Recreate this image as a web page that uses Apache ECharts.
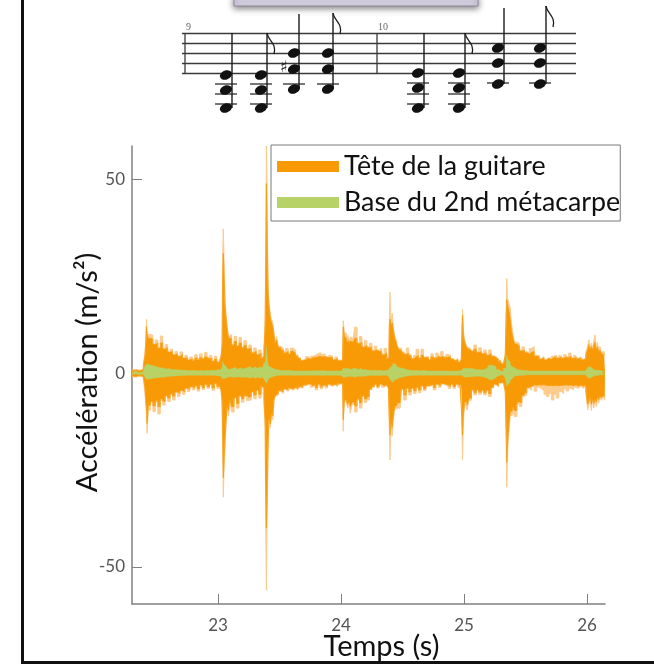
<!DOCTYPE html>
<html><head><meta charset="utf-8">
<style>html,body{margin:0;padding:0;background:#fff}#c{width:654px;height:664px}</style>
<script src="https://cdn.jsdelivr.net/npm/echarts@6/dist/echarts.min.js"></script>
</head><body><div id="c"></div>
<script>
const xTicks=[23,24,25,26];
const yTicks=[-50,0,50];
const seriesNames=['Tête de la guitare','Base du 2nd métacarpe'];
const time=[
22.30,22.33,22.36,22.39,22.40,22.41,22.415,22.42,22.425,
22.44,22.46,22.48,22.50,22.52,22.54,22.56,22.58,22.60,22.62,22.64,22.66,22.68,22.70,22.72,22.74,22.76,22.78,22.80,22.82,22.84,22.86,22.88,22.90,22.92,22.94,22.96,22.98,23.00,23.02,23.03,
23.035,23.04,23.045,23.05,23.055,23.06,23.07,23.08,23.09,23.10,23.12,23.14,23.16,23.18,23.20,23.22,23.24,23.26,23.28,23.30,23.32,23.34,23.36,23.37,23.38,
23.385,23.39,23.395,23.40,23.405,23.41,23.42,23.43,23.44,23.45,23.46,23.47,23.48,23.50,23.52,23.54,23.56,23.58,23.60,23.62,23.64,23.66,23.68,23.70,23.72,23.74,23.76,23.78,23.80,23.82,23.84,23.86,23.88,23.90,23.92,23.94,23.96,23.98,24.00,24.01,
24.015,24.02,24.025,24.03,24.04,24.05,24.06,24.07,24.08,24.10,24.12,24.14,24.16,24.18,24.20,24.22,24.24,24.26,24.28,24.30,24.32,24.34,24.36,24.38,
24.39,24.395,24.40,24.405,24.41,24.42,24.43,24.44,24.45,24.46,24.48,24.50,24.52,24.54,24.56,24.58,24.60,24.62,24.64,24.66,24.68,24.70,24.72,24.74,24.76,24.78,24.80,24.82,24.84,24.86,24.88,24.90,24.92,24.94,24.96,24.975,
24.98,24.985,24.99,24.995,25.00,25.01,25.02,25.03,25.05,25.07,25.09,25.11,25.13,25.15,25.17,25.19,25.21,25.23,25.25,25.27,25.29,25.31,25.33,
25.34,25.345,25.35,25.355,25.36,25.37,25.38,25.39,25.40,25.42,25.44,25.46,25.48,25.50,25.52,25.54,25.56,25.58,25.60,25.62,25.64,25.66,25.68,25.70,25.72,25.74,25.76,25.78,25.80,25.82,25.84,25.86,25.88,25.90,25.92,25.94,25.96,25.98,26.00,26.01,
26.02,26.03,26.04,26.05,26.06,26.07,26.08,26.09,26.10,26.11,26.12,26.13,26.14,26.146];
const guitarPeakHigh=[
.8,1,.8,1,3,5,9,13.9,11,
10,9.8,7.6,8.6,6.6,9.6,6.5,7.4,5.6,6.2,4.9,5.6,4.5,5.5,4,4.6,3.6,4.2,3.4,4.8,3.6,5,3.8,5.4,4,4.6,3.2,4.4,3,3.4,5,
8,31,37.3,31,24,18,15,12,9.5,10,7.5,9.5,7.2,9.2,6.8,8.4,6.5,7.3,5.5,6.5,5,6,3.9,4.5,8,
14,32,58.7,49,32,22,18,15,14,13,10.5,8,9.5,7,6.5,5.6,6.4,5.2,6.5,6,4.7,4,3.4,3.6,4.3,3.8,4.4,4.6,5,5.3,4.8,5,4.3,4.7,4.5,3.6,4.2,3.4,3.6,3.4,
5,13.6,12,10.5,10.3,8.6,9.8,8,9.4,9,11.9,8,9.5,7,8.4,6.9,7.7,6,7,6,6.5,5,6.4,3.8,
5,14,21,15,13,15.5,12,10,9,7.3,6.5,5.6,5,6.5,4.8,3.9,4.6,6.2,4,6.2,4.2,4.3,3.6,5,4,5.2,4.5,5.6,4.2,4.8,4.7,3.8,3.4,3.8,3,3.2,
4,12,16.5,13,10,8.6,7.5,6.8,6.5,5.8,7.3,5.6,6.6,5.2,6,4.8,6,4.6,4.3,3.8,3.2,2.6,3,
5,17,24.5,20,19,18,17,13,10.7,8,7.7,6,6.8,5.6,5.2,6.4,6.9,4.7,4.6,3.8,4.3,3.6,4,3.8,4.4,4.7,4,4.6,4,4.8,4.2,5.2,4,4.6,3.9,4.3,3.6,3.9,5.5,7,
8.6,6.4,7.8,6.2,8.5,9.9,6.5,8,5.8,6.9,5.4,5.6,5,5.6];
const guitarPeakLow=[
-.9,-1,-.8,-.9,-2,-5,-8.6,-10,-15.5,
-9.5,-7.6,-9.9,-7.5,-10.5,-7,-8.2,-6,-7.3,-5.5,-6.9,-5,-6,-4.6,-5.4,-4,-4.7,-3.6,-4.3,-3.4,-4.6,-3.2,-4.2,-3,-3.9,-3,-4.4,-2.8,-3.9,-3,-5,
-8,-20,-32,-26,-22,-18,-13,-9,-11,-7,-10,-6.5,-9,-6,-7.5,-6,-7,-6.9,-5,-6.6,-4.5,-6.4,-3.4,-4,-9,
-14,-40,-56,-40,-28,-18,-12,-14,-11,-12,-7,-6,-5.6,-4.7,-5.2,-4.2,-4.7,-4,-4.4,-3.9,-4.3,-3.6,-3.9,-3.2,-3,-2.9,-3.6,-3.1,-4.3,-3,-4,-3.2,-3.8,-3,-3.4,-3,-3.4,-2.8,-3,-2.8,
-4,-15,-10,-7.5,-7,-8,-9,-7.5,-10.3,-8,-10,-7,-9,-6,-7.5,-6.9,-4.3,-3.6,-3,-3.8,-3,-3.6,-3.2,-3.5,
-4,-14,-22.4,-16,-13,-16.3,-12,-9.5,-9,-8.6,-9,-4.3,-6.9,-4,-5.6,-4,-5.2,-3.8,-5,-3.4,-4.5,-3.4,-3.3,-3,-4.3,-3,-3.6,-2.8,-3,-3.3,-3.9,-3,-3.9,-3,-3.6,-3,
-4,-15,-22.4,-15,-11,-7.7,-8.5,-9.5,-7,-4.5,-5.6,-4.5,-5.4,-4.6,-5.6,-4.6,-6,-3.8,-3,-3.5,-2.6,-2.5,-3,
-5,-18,-29.4,-22,-18,-15,-11,-10.8,-9,-11.2,-8,-8.6,-6,-5.6,-3.9,-4.4,-3.4,-4.6,-3.6,-4,-4.5,-5.4,-6,-5.2,-6.9,-5.4,-6.4,-4.7,-5.2,-4,-4.6,-3.9,-4.2,-3.6,-3.9,-3.4,-3.9,-3.4,-5,-9.5,
-8,-6.4,-9.6,-7,-9,-7,-8.6,-6.4,-7.7,-6,-7,-6.9,-6,-7];
const guitarCoreHigh=[
.6,.8,.6,.8,2.6,4.4,8,12,10,
9,8.8,7.4,7.8,6.4,7.8,6.2,6.6,5.4,5.6,4.7,5,4.3,4.8,3.8,4.1,3.4,3.7,3.2,3.9,3.4,4,3.6,4.2,3.7,3.9,3,3.6,2.8,3.2,4.4,
7,26,31,26,22,17,14,11,9,9,7.2,8.2,6.9,7.8,6.5,7.2,6.2,6.5,5.2,5.7,4.7,5.2,3.7,4.2,7,
12,28,49,40,28,20,17,14,13,12,9.6,7.6,8.6,6.6,6,5.2,5.6,4.9,5.6,5.2,4.4,3.8,3.2,3.4,3.9,3.6,4,4,4.2,4.3,4.2,4.3,4,4.1,4,3.4,3.8,3.2,3.4,3.2,
4.5,12,10.5,9.5,9,8,8.4,7.6,8.2,8,9,7.6,8,6.7,7.2,6.5,6.8,5.7,6,5.6,5.6,4.7,5.2,3.6,
4,12,14,13,12,13,11,9,8.2,6.9,6,5.3,4.8,5.2,4.5,3.7,4.2,4.6,3.8,4.6,4,4,3.4,4.2,3.8,4.3,4.1,4.4,4,4.2,4.2,3.6,3.2,3.5,2.8,3,
3.6,10,15,11.5,9,8,7,6.4,6,5.5,6.2,5.3,5.6,5,5.2,4.6,5.1,4.3,4,3.5,3,2.4,2.8,
4.5,15,19,18,17,16,14,11,9.4,7.5,7,5.7,6,5.3,4.9,5.4,5.6,4.4,4.3,3.6,4,3.4,3.8,3.6,4,4.2,3.8,4.1,3.8,4.2,4,4.4,3.8,4.1,3.7,3.9,3.4,3.7,4.8,6,
7.4,6,6.9,5.9,7.3,8,6,6.8,5.4,6,5.1,5.2,4.7,5];
const guitarCoreLow=[
-.7,-.8,-.6,-.7,-1.7,-3.6,-7,-9,-13,
-8.2,-7.2,-8.4,-7,-8.6,-6.6,-7.2,-5.7,-6.4,-5.2,-5.9,-4.8,-5.3,-4.4,-4.8,-3.8,-4.2,-3.4,-3.9,-3.2,-4,-3,-3.7,-2.8,-3.5,-2.8,-3.8,-2.6,-3.4,-2.8,-4.4,
-7,-17,-27,-23,-20,-16,-12,-8.4,-9.6,-6.6,-8.6,-6.2,-7.8,-5.7,-6.6,-5.7,-6.2,-6,-4.7,-5.6,-4.3,-5.4,-3.2,-3.7,-8,
-12,-32,-40,-34,-25,-17,-11,-13,-10,-11,-6.6,-5.7,-5.2,-4.4,-4.8,-4,-4.3,-3.8,-4,-3.7,-3.9,-3.4,-3.6,-3,-2.8,-2.7,-3.2,-2.9,-3.7,-2.8,-3.5,-3,-3.4,-2.8,-3.1,-2.8,-3.1,-2.6,-2.8,-2.6,
-3.6,-12,-9,-7,-6.6,-7.4,-8,-7,-8.6,-7.4,-8.4,-6.6,-7.6,-5.7,-6.6,-6,-4,-3.4,-2.8,-3.4,-2.8,-3.2,-3,-3.1,
-3.6,-12,-16,-14,-12,-14,-11,-8.6,-8.2,-7.6,-7.6,-4,-5.6,-3.8,-4.8,-3.8,-4.5,-3.6,-4.3,-3.2,-4,-3.2,-3.1,-2.8,-3.7,-2.8,-3.3,-2.6,-2.8,-3,-3.4,-2.8,-3.4,-2.8,-3.2,-2.8,
-3.6,-12,-16,-12,-9.6,-7.2,-7.6,-8.2,-6.4,-4.2,-5,-4.2,-4.9,-4.3,-5,-4.3,-5.2,-3.6,-2.8,-3.2,-2.4,-2.3,-2.8,
-4.5,-15,-23,-19,-16,-13,-10,-9.6,-8.4,-9.6,-7.4,-7.6,-5.6,-5,-3.6,-3.4,-3,-3.1,-3,-3,-3,-3.1,-3.2,-3.1,-3.2,-3.1,-3.2,-3.1,-3.1,-3,-3.1,-3,-3.2,-3,-3.3,-3,-3.3,-3,-4.4,-8,
-7.2,-6,-8,-6.6,-7.8,-6.6,-7.4,-6,-6.8,-5.7,-6.3,-6.2,-5.6,-6.2];
const handHigh=[
.2,.5,.2,.3,1,1.8,2.2,2.4,2.4,
2.2,2,1.9,1.6,1.5,1.4,1.3,1.1,1.2,1,1,.9,.9,.8,.8,.8,.7,.7,.7,.7,.6,.7,.6,.7,.7,.7,.8,.7,.9,.9,1.2,
1.6,3,3.3,2.2,2,1.8,1.4,1.2,1,1.1,1.3,1.5,1,1.4,1.1,1.2,1.5,1.7,1.2,1.7,1.3,1.6,1.4,1.5,3,
2,4,6.9,5,3,2,1.6,1.5,1.3,1.2,1,1,.9,.7,.7,.7,.7,.7,.6,.6,.6,.6,.6,.6,.6,.6,.7,.6,.7,.6,.7,.6,.6,.6,.6,.6,.6,.6,.7,.7,
.8,1.3,1.4,1.2,1.2,1.1,1.3,1,1.3,1.2,1.3,1,1.2,.9,1,.8,.8,.7,.8,.7,.8,.6,.7,.7,
.7,1,1.4,1.6,1.9,2.4,2.6,2.3,2,1.6,1.4,1.3,1.1,.9,.8,.7,.7,.7,.6,.7,.7,.6,.6,.6,.6,.6,.6,.6,.6,.6,.6,.5,.6,.6,.6,.7,
.7,1,1.2,1.3,1.3,1.3,1.3,1.3,1.2,1.2,1,1,.9,.9,1,1.4,2.1,2,1.6,1,.6,.5,1.2,
1.3,3,4.7,4,3.4,3,2.4,1.8,1.4,1,.9,.8,.7,.7,.6,.6,.6,.6,.6,.6,.6,.6,.6,.6,.6,.6,.6,.6,.6,.6,.6,.6,.6,.6,.6,.6,.6,.6,.9,1.5,
1.7,1.6,1.2,1,.8,.7,.8,.9,.7,.6,.5,.6,.5,.5];
const handLow=[
-.3,-.2,-.3,-.2,-.6,-1,-1.4,-1.5,-1.6,
-1.4,-1.4,-1.2,-1.2,-1.1,-1,-1,-.9,-.8,-.8,-.7,-.7,-.6,-.6,-.6,-.5,-.5,-.5,-.5,-.5,-.5,-.5,-.5,-.5,-.5,-.5,-.6,-.5,-.7,-.7,-.8,
-1,-1.4,-1.7,-1.6,-1.4,-1.3,-1.1,-.9,-.8,-.9,-1,-1,-.9,-1,-1,-1,-1.1,-1.3,-.9,-1.3,-1,-1.2,-1,-1.1,-1.6,
-1.2,-2,-2.6,-2.4,-2,-1.5,-1.2,-1.1,-1,-.9,-.8,-.7,-.6,-.5,-.5,-.5,-.5,-.5,-.5,-.5,-.5,-.5,-.5,-.5,-.5,-.5,-.5,-.5,-.5,-.5,-.5,-.5,-.5,-.5,-.5,-.5,-.5,-.5,-.5,-.5,
-.6,-1,-1,-.9,-1,-.8,-1,-.8,-1,-.9,-1,-.7,-.9,-.7,-.8,-.6,-.6,-.5,-.6,-.5,-.6,-.5,-.5,-.6,
-.5,-1,-1.4,-1.6,-2,-2.3,-2,-1.7,-1.5,-1.2,-1.1,-1,-.8,-.7,-.6,-.6,-.5,-.5,-.5,-.5,-.5,-.5,-.5,-.5,-.5,-.5,-.5,-.5,-.5,-.5,-.5,-.5,-.5,-.5,-.5,-.6,
-.5,-.8,-1,-1,-1,-1,-1,-1,-.9,-.9,-.8,-.8,-.8,-.9,-1,-1.3,-1.7,-1.7,-1.3,-.8,-.5,-.4,-.9,
-1,-2.4,-3.4,-3,-2.8,-2.4,-1.8,-1.3,-1,-.7,-.6,-.5,-.5,-.4,-.4,-.4,-.4,-.4,-.4,-.4,-.4,-.4,-.4,-.4,-.4,-.4,-.4,-.4,-.4,-.4,-.4,-.4,-.4,-.4,-.4,-.4,-.4,-.4,-.7,-1.1,
-1.3,-1.2,-.9,-.8,-.6,-.5,-.6,-.6,-.5,-.4,-.4,-.4,-.4,-.4];

const ORANGE='#f89a05', PALE='#fccb8e', GREEN='#b7d368';
function band(name,values,color,w){
  return {type:'line',name,step:'middle',data:time.map((t,i)=>[t,values[i]]),showSymbol:false,symbol:'none',
    lineStyle:{color,width:w},itemStyle:{color},areaStyle:{color,opacity:1},emphasis:{disabled:true},silent:true,animation:false,z:2};
}
/* decorative music staff above the chart */
const staffY=[33.5,43.5,53.5,63.5,73.5];
const chords=[
 {stem:232,top:33,x:226,notes:[75,90,108],ledger:[84,94,104],flag:false},
 {stem:267,top:33,x:261,notes:[75,90,108],ledger:[84,94,104],flag:true},
 {stem:299,top:14,x:294,notes:[53,69,89],ledger:[84],flag:false},
 {stem:333,top:13,x:328,notes:[53,69,89],ledger:[84],flag:true},
 {stem:424,top:33,x:418,notes:[73,88,108],ledger:[83,94,104],flag:false},
 {stem:465,top:33,x:459,notes:[73,88,108],ledger:[83,94,104],flag:true},
 {stem:504,top:8,x:498,notes:[48,63,84],ledger:[83],flag:false},
 {stem:546,top:6,x:540,notes:[48,63,84],ledger:[83],flag:true}];
const INK='#1c1c1c';
const line=(x1,y1,x2,y2,w,c)=>({type:'line',shape:{x1,y1,x2,y2},style:{stroke:c||INK,lineWidth:w},silent:true});
const g=[];
g.push({type:'rect',shape:{x:21,y:0,width:3,height:664},style:{fill:'#111'},silent:true});
g.push({type:'rect',shape:{x:21,y:661,width:633,height:3},style:{fill:'#111'},silent:true});
g.push({type:'rect',shape:{x:234,y:-4,width:244,height:10},style:{fill:'#d9d3e6',stroke:'#8f8a9c',lineWidth:1,shadowBlur:6,shadowColor:'rgba(0,0,0,.5)',shadowOffsetY:2},silent:true});
staffY.forEach(y=>g.push(line(182,y,576,y,1.3,'#3a3a3a')));
[185,377].forEach(x=>g.push(line(x,33.5,x,73.5,1.3,'#3a3a3a')));
chords.forEach(c=>{
  c.ledger.forEach(y=>g.push(line(c.x-11,y,c.x+11,y,1.2)));
  g.push(line(c.stem,c.top,c.stem,c.notes[c.notes.length-1],1.4));
  c.notes.forEach(y=>g.push({type:'ellipse',shape:{cx:c.x,cy:y,rx:6.2,ry:4.5},rotation:0.35,originX:c.x,originY:y,style:{fill:'#111'},silent:true}));
  if(c.flag)g.push({type:'bezierCurve',shape:{x1:c.stem,y1:c.top,cpx1:c.stem+1,cpy1:c.top+8,cpx2:c.stem+10,cpy2:c.top+10,x2:c.stem+7,y2:c.top+21},style:{stroke:INK,lineWidth:1.3,fill:null},silent:true});
});
g.push({type:'text',x:186,y:22,silent:true,style:{text:'9',font:'10px "Liberation Serif"',fill:'#666'}});
g.push({type:'text',x:378,y:22,silent:true,style:{text:'10',font:'10px "Liberation Serif"',fill:'#666'}});
g.push({type:'text',x:280,y:60,silent:true,style:{text:'♯',font:'16px "DejaVu Sans"',fill:INK}});

const chart=echarts.init(document.getElementById('c'),null,{renderer:'canvas'});
const FONT='Lato';
chart.setOption({
  animation:false,backgroundColor:'#fff',
  grid:{left:132,right:49,top:146,bottom:60,outerBoundsMode:'none'},
  legend:{show:true,data:seriesNames.map(name=>({name,icon:'rect'})),orient:'vertical',left:271,top:145,
    itemWidth:62,itemHeight:11,itemGap:9,padding:[8,0,5,6],selectedMode:false,
    backgroundColor:'#fff',borderColor:'#7a7a7a',borderWidth:1,
    textStyle:{fontFamily:FONT,fontSize:26.8,color:'#111'}},
  xAxis:{type:'value',min:22.30,max:26.146,
    name:'Temps (s)',nameLocation:'middle',nameGap:28,nameMoveOverlap:false,nameTextStyle:{fontFamily:FONT,fontSize:29,color:'#111',padding:[0,0,0,26]},
    axisLine:{show:true,onZero:false,lineStyle:{color:'#808080',width:1.5}},
    axisTick:{show:true,inside:true,length:10,customValues:xTicks,lineStyle:{color:'#808080',width:1}},
    axisLabel:{customValues:xTicks,margin:13,fontFamily:FONT,fontSize:17,color:'#555'},splitLine:{show:false}},
  yAxis:{type:'value',min:-59.6,max:58.7,
    name:'Accélération (m/s²)',nameLocation:'middle',nameGap:30,nameMoveOverlap:false,nameTextStyle:{fontFamily:FONT,fontSize:29,color:'#111',padding:[0,0,0,5]},
    axisLine:{show:true,onZero:false,lineStyle:{color:'#808080',width:1.5}},
    axisTick:{show:true,inside:true,length:10,customValues:yTicks,lineStyle:{color:'#808080',width:1}},
    axisLabel:{customValues:yTicks,margin:7,fontFamily:FONT,fontSize:17,color:'#555'},splitLine:{show:false}},
  series:[
    band('peakHigh',guitarPeakHigh,PALE,1),
    band('peakLow',guitarPeakLow,PALE,1),
    band(seriesNames[0],guitarCoreHigh,ORANGE,.8),
    band(seriesNames[0]+' ',guitarCoreLow,ORANGE,.8),
    band(seriesNames[1],handHigh,GREEN,.4),
    band(seriesNames[1]+' ',handLow,GREEN,.4)
  ],
  graphic:{elements:g}
});
</script></body></html>
